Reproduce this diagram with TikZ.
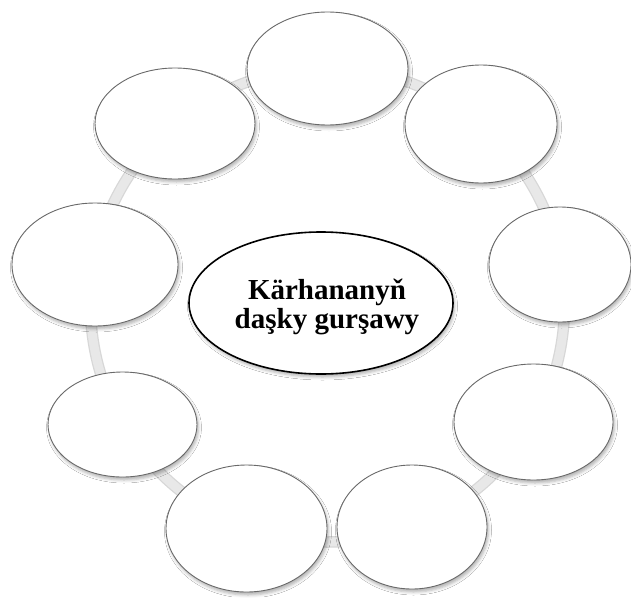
\documentclass[tikz,border=0pt]{standalone}
\usepackage{fontspec}
\setmainfont{Liberation Serif}
\usetikzlibrary{shapes.geometric,shadows.blur}
\definecolor{bubbleline}{RGB}{105,105,105}
\definecolor{ringfill}{RGB}{232,232,232}
\definecolor{ringedge}{RGB}{215,215,215}
\begin{document}
\begin{tikzpicture}[x=1pt,y=-1pt]
\tikzset{
  bubble/.style={ellipse, draw=bubbleline, line width=0.9pt, fill=white, inner sep=0pt,
    blur shadow={shadow xshift=1.5pt, shadow yshift=-3pt, shadow blur radius=3pt, shadow opacity=30}},
  mainbubble/.style={ellipse, draw=black, line width=1.6pt, fill=white, inner sep=0pt,
    blur shadow={shadow xshift=1.5pt, shadow yshift=-3pt, shadow blur radius=3pt, shadow opacity=30}},
  maintext/.style={align=center, inner sep=0pt, font=\bfseries\fontsize{29}{28.5}\selectfont},
  ringedgestyle/.style={draw=ringedge, line width=11.5pt},
  ringstyle/.style={draw=ringfill, line width=9pt}
}
\path[use as bounding box] (0,0) rectangle (631,597);
\fill[white] (0,0) rectangle (631,597);
\coordinate (ringcenter) at (327.5,305);
\draw[ringedgestyle] (ringcenter) circle[radius=237];
\draw[ringstyle] (ringcenter) circle[radius=237];
\node[bubble, minimum width=161pt, minimum height=113pt] (top) at (327.5,68.5) {};
\node[bubble, minimum width=152pt, minimum height=118pt] (topright) at (481,124) {};
\node[bubble, minimum width=142pt, minimum height=115pt] (right) at (560,264.5) {};
\node[bubble, minimum width=159pt, minimum height=116pt] (bottomright) at (533.5,422) {};
\node[bubble, minimum width=150pt, minimum height=124pt] (bottomcr) at (412,527) {};
\node[bubble, minimum width=161pt, minimum height=127pt] (bottomcl) at (246.5,528.5) {};
\node[bubble, minimum width=149pt, minimum height=105pt] (lowerleft) at (122.5,424.5) {};
\node[bubble, minimum width=166pt, minimum height=123pt] (left) at (95,264.5) {};
\node[bubble, minimum width=160pt, minimum height=111pt] (topleft) at (175,123.5) {};
\node[mainbubble, minimum width=264pt, minimum height=142pt] (center) at (321,303) {};
\node[maintext] (centerlabel) at (327,307) {Kärhananyň\\daşky gurşawy};
\end{tikzpicture}
\end{document}
